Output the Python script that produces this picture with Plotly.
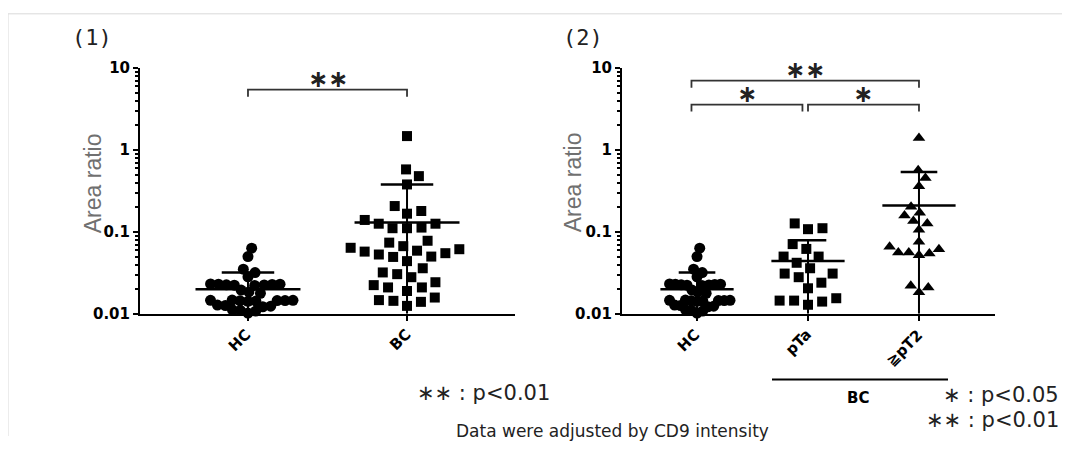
import numpy as np
import plotly.graph_objects as go

# ---------------- data ----------------
# Panel (1)
p1_categories = ["HC", "BC"]
hc_values = [0.0633, 0.050, 0.0351, 0.0319, 0.0283,
             0.0230, 0.0228, 0.0225, 0.0232, 0.0222, 0.0226, 0.0230, 0.0224,
             0.0185, 0.0178, 0.0195,
             0.0145, 0.0146, 0.0144, 0.0143, 0.0142, 0.0145, 0.0147, 0.0146,
             0.0128, 0.0124, 0.0126, 0.0122,
             0.0112, 0.0110, 0.0108, 0.0102]
bc_values = [1.48, 0.58, 0.48, 0.38, 0.207, 0.18, 0.167, 0.126, 0.113, 0.111,
             0.111, 0.126, 0.14, 0.078, 0.067, 0.0615, 0.053, 0.0495, 0.0575,
             0.055, 0.044, 0.059, 0.050, 0.064, 0.074, 0.036, 0.0305, 0.0243,
             0.021, 0.021, 0.0224, 0.028, 0.032, 0.019, 0.0158, 0.0144, 0.0125,
             0.014, 0.0147]
p1_means = [0.020, 0.13]
p1_sds = [0.012, 0.25]

# Panel (2)
p2_categories = ["HC", "pTa", "≧pT2"]
hc2_values = hc_values
pta_values = [0.127, 0.108, 0.111, 0.071, 0.062, 0.050, 0.050, 0.036, 0.042,
              0.031, 0.028, 0.031, 0.024, 0.0205, 0.0155, 0.0145, 0.0129,
              0.0141, 0.0145]
pt2_values = [1.40, 0.566, 0.457, 0.362, 0.203, 0.172, 0.159, 0.136, 0.127,
              0.106, 0.066, 0.076, 0.056, 0.0546, 0.052, 0.056, 0.0615, 0.022,
              0.0183, 0.021]
p2_means = [0.020, 0.044, 0.21]
p2_sds = [0.012, 0.035, 0.33]

y_tickvals = [0.01, 0.1, 1, 10]
y_ticktext = ["0.01", "0.1", "1", "10"]

# ---------------- layout geometry (screen pixels of the reference) ----------------
OFF = 8                              # default body margin of the html page
W, H = 1070 - 2 * OFF, 453 - 2 * OFF  # figure fits the window with the margin
VA, VB = 8.5, 0.962                  # measured vertical mapping of the photo
Y_TOP, Y_BOT = 67.5, 314.0          # pixel rows of 10 and 0.01
LOGMIN, LOGMAX = -2, 1
PPD = (Y_BOT - Y_TOP) / (LOGMAX - LOGMIN)

P1_X0, P1_X1 = 140.0, 515.0
P2_X0, P2_X1 = 622.0, 995.0
P1_RANGE = [-0.679, 1.679]
P2_RANGE = [-0.676, 2.685]
P1_PPU = (P1_X1 - P1_X0) / (P1_RANGE[1] - P1_RANGE[0])
P2_PPU = (P2_X1 - P2_X0) / (P2_RANGE[1] - P2_RANGE[0])


def px(x):
    return (x - OFF) / W


def py(y):
    y = (y - VA) / VB
    return 1 - (y - OFF) / H


def swarm(values, diam, max_half=None):
    """Beeswarm offsets in pixels computed from the values."""
    ys = np.log10(np.asarray(values, float)) * PPD
    order = np.argsort(ys, kind="stable")
    xs = np.zeros(len(ys))
    placed = []
    for i in order:
        y = ys[i]
        intervals = []
        for (qx, qy) in placed:
            dy = abs(y - qy)
            if dy < diam:
                dx = (diam ** 2 - dy ** 2) ** 0.5
                intervals.append((qx - dx, qx + dx))
        cands = [0.0] + [a for a, b in intervals] + [b for a, b in intervals]
        cands.sort(key=lambda c: (round(abs(c), 6), -c))
        for c in cands:
            if all(not (a + 1e-6 < c < b - 1e-6) for a, b in intervals):
                xs[i] = c
                break
        placed.append((xs[i], y))
    m = np.max(np.abs(xs))
    if max_half is not None and m > max_half:
        xs = xs * max_half / m
    return xs


fig = go.Figure()


def add_group(values, idx, xaxis, yaxis, ppu, symbol, size, diam, max_half=None):
    offs = swarm(values, diam, max_half) / ppu
    fig.add_trace(go.Scatter(
        x=idx + offs, y=values, mode="markers", xaxis=xaxis, yaxis=yaxis,
        marker=dict(symbol=symbol, size=size, color="black",
                    line=dict(width=0)),
        cliponaxis=False, showlegend=False, hoverinfo="y"))


def add_stats(means, sds, xaxis, yaxis):
    ymin = 10 ** LOGMIN
    for i, (m, s) in enumerate(zip(means, sds)):
        lo = max(m - s, ymin)
        hi = m + s
        style = dict(color="black", width=2.5)
        fig.add_trace(go.Scatter(x=[i - 0.33, i + 0.33], y=[m, m], mode="lines",
                                 line=style, xaxis=xaxis, yaxis=yaxis,
                                 showlegend=False, hoverinfo="skip", cliponaxis=False))
        fig.add_trace(go.Scatter(x=[i, i], y=[lo, hi], mode="lines",
                                 line=dict(color="black", width=2), xaxis=xaxis, yaxis=yaxis,
                                 showlegend=False, hoverinfo="skip", cliponaxis=False))
        fig.add_trace(go.Scatter(x=[i - 0.165, i + 0.165], y=[hi, hi], mode="lines",
                                 line=style, xaxis=xaxis, yaxis=yaxis,
                                 showlegend=False, hoverinfo="skip", cliponaxis=False))


# panel 1
add_group(hc_values, 0, "x", "y", P1_PPU, "circle", 11, 9.5, 45)
add_group(bc_values, 1, "x", "y", P1_PPU, "square", 10, 14.5)
add_stats(p1_means, p1_sds, "x", "y")
# panel 2
add_group(hc2_values, 0, "x2", "y2", P2_PPU, "circle", 11, 9.5, 33)
add_group(pta_values, 1, "x2", "y2", P2_PPU, "square", 10, 14.5)
add_group(pt2_values, 2, "x2", "y2", P2_PPU, "triangle-up", 11, 10.5)
add_stats(p2_means, p2_sds, "x2", "y2")

# significance brackets: (xaxis, yaxis, x0, x1, bracket log-level, label)
brackets = [
    ("x", "y", 0.0, 1.0, 0.737, "∗∗"),
    ("x2", "y2", -0.05, 2.0, 0.847, "∗∗"),
    ("x2", "y2", -0.05, 0.95, 0.555, "∗"),
    ("x2", "y2", 1.0, 2.0, 0.555, "∗"),
]
annotations = []
TICK = 7 / PPD
for xa, ya, x0, x1, lev, lab in brackets:
    fig.add_trace(go.Scatter(
        x=[x0, x0, x1, x1], y=[10 ** (lev - TICK), 10 ** lev, 10 ** lev, 10 ** (lev - TICK)],
        mode="lines", line=dict(color="#333333", width=1.8), xaxis=xa, yaxis=ya,
        showlegend=False, hoverinfo="skip", cliponaxis=False))
    annotations.append(dict(x=(x0 + x1) / 2, y=lev + 11 / PPD, xref=xa, yref=ya,
                            text=lab, showarrow=False,
                            font=dict(family="DejaVu Sans", size=24, color="#222222",
                                      weight="bold")))

axis_common = dict(showline=True, linecolor="black", linewidth=2, ticks="outside",
                   tickwidth=2, ticklen=5, tickcolor="black", showgrid=False,
                   zeroline=False)
minor_vals = [m * 10 ** e for e in range(LOGMIN, LOGMAX) for m in range(2, 10)]
yaxis_common = dict(axis_common, type="log", range=[LOGMIN, LOGMAX],
                    domain=[py(Y_BOT), py(Y_TOP)], tickvals=y_tickvals,
                    ticktext=y_ticktext,
                    tickfont=dict(family="DejaVu Sans", size=15, weight="bold", color="black"),
                    minor=dict(ticks="outside", tickvals=minor_vals, ticklen=3,
                               tickwidth=1.5, tickcolor="black"))

fig.update_layout(
    width=W, height=H, margin=dict(l=0, r=0, t=0, b=0),
    plot_bgcolor="white", paper_bgcolor="white", showlegend=False,
    xaxis=dict(axis_common, domain=[px(P1_X0), px(P1_X1)], range=P1_RANGE,
               tickvals=list(range(len(p1_categories))), showticklabels=False,
               anchor="y"),
    yaxis=dict(yaxis_common, anchor="x"),
    xaxis2=dict(axis_common, domain=[px(P2_X0), px(P2_X1)], range=P2_RANGE,
                tickvals=list(range(len(p2_categories))), showticklabels=False,
                anchor="y2"),
    yaxis2=dict(yaxis_common, anchor="x2"),
)

# rotated category labels
for xa, cats in (("x", p1_categories), ("x2", p2_categories)):
    for i, c in enumerate(cats):
        annotations.append(dict(x=i, y=py(323), xref=xa, yref="paper", text=c,
                                showarrow=False, textangle=-45, xanchor="right",
                                yanchor="top", xshift=10,
                                font=dict(family="DejaVu Sans", size=15,
                                          weight="bold", color="black")))


# texts in paper coordinates
def txt(x, y, text, size, family="DejaVu Sans", color="black", weight="normal",
        angle=0, xanchor="center"):
    annotations.append(dict(x=px(x), y=py(y), xref="paper", yref="paper", text=text,
                            showarrow=False, textangle=angle, xanchor=xanchor,
                            yanchor="middle",
                            font=dict(family=family, size=size, color=color, weight=weight)))


txt(92, 37, "(1)", 22, family="DejaVu Sans Mono", color="#222222")
txt(583, 37, "(2)", 22, family="DejaVu Sans Mono", color="#222222")
txt(93, 183, "Area ratio", 23, family="Liberation Sans", color="#707070", angle=-90)
txt(573, 182, "Area ratio", 23, family="Liberation Sans", color="#707070", angle=-90)
txt(858, 398, "BC", 15, weight="bold")
txt(415, 393, "∗∗ : p<0.01", 21, color="#222222", xanchor="left")
txt(612, 432, "Data were adjusted by CD9 intensity", 17, color="#222222")
txt(1061, 395, "∗ : p<0.05", 21, color="#222222", xanchor="right")
txt(1061, 421, "∗∗ : p<0.01", 21, color="#222222", xanchor="right")

shapes = [
    dict(type="line", xref="paper", yref="paper", x0=px(772), x1=px(948),
         y0=py(380), y1=py(380), line=dict(color="black", width=2)),
    dict(type="line", xref="paper", yref="paper", x0=px(8), x1=1,
         y0=py(13), y1=py(13), line=dict(color="#d9d9d9", width=1)),
    dict(type="line", xref="paper", yref="paper", x0=px(8), x1=px(8),
         y0=py(13), y1=0, line=dict(color="#d9d9d9", width=1)),
]
fig.update_layout(annotations=annotations, shapes=shapes)

fig.write_html("out.html")
